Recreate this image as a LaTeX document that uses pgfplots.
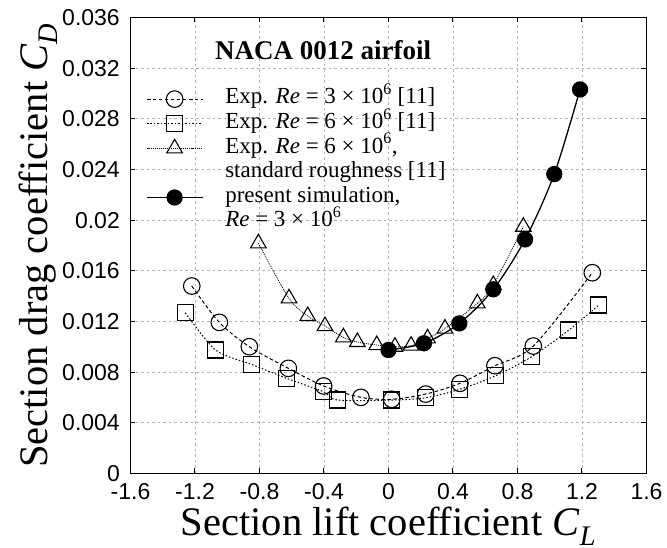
\documentclass[border=0pt]{standalone}
\usepackage{pgfplots}
\pgfplotsset{compat=1.18}
\usepackage{fontspec}
\setmainfont{Liberation Serif}
\newfontfamily\arialfont{Liberation Sans}

\begin{document}
\begin{tikzpicture}
\begin{axis}[
    name=ax,
    scale only axis, width=516pt, height=456pt,
    xmin=-1.6, xmax=1.6, ymin=0, ymax=0.036,
    xtick={-1.6,-1.2,-0.8,-0.4,0,0.4,0.8,1.2,1.6},
    xticklabels={-1.6,-1.2,-0.8,-0.4,0,0.4,0.8,1.2,1.6},
    ytick={0,0.004,0.008,0.012,0.016,0.02,0.024,0.028,0.032,0.036},
    yticklabels={0,0.004,0.008,0.012,0.016,0.02,0.024,0.028,0.032,0.036},
    scaled y ticks=false, scaled x ticks=false,
    tick align=inside, major tick length=5pt,
    tick style={black, line width=1pt},
    grid=major,
    grid style={gray!60, line width=0.7pt, dash pattern=on 2.5pt off 3pt},
    axis line style={line width=1.8pt},
    ticklabel style={font=\arialfont\fontsize{23}{23}\selectfont, inner sep=0pt},
    yticklabel style={xshift=-10.5pt},
    xticklabel style={yshift=-9.8pt},
    every axis x label/.style={at={(axis description cs:0.5,-0.135)}, anchor=base},
    every axis y label/.style={at={(axis description cs:-0.1618,0.5)}, rotate=90, anchor=base},
    label style={font=\fontsize{40.5}{40.5}\selectfont, inner sep=0pt},
    xlabel={Section lift coefficient \textit{C}\textsubscript{\textit{L}}},
    ylabel={Section drag coefficient \textit{C}\textsubscript{\textit{D}}},
    legend cell align=left,
    legend image code/.code={\draw[mark repeat=2,mark phase=2,#1] plot coordinates {(0pt,0pt) (28pt,0pt) (56pt,0pt)};},
    legend style={at={(axis description cs:0.03,0.848)}, anchor=north west,
        draw=none, fill=none, inner sep=0pt, outer sep=0pt, row sep=0pt,
        font=\fontsize{23}{24.6}\selectfont,
        nodes={inner sep=0pt, text height=17pt, text depth=7.6pt},
        /tikz/every odd column/.append style={column sep=22pt}},
]

% Exp. Re = 3e6
\addplot[black, line width=1pt, dash pattern=on 3.5pt off 2.5pt, smooth,
    mark=o, mark size=8.3pt, mark options={solid, line width=1.1pt}] coordinates {
    (-1.220,0.01480) (-1.049,0.01193) (-0.863,0.01001) (-0.621,0.00830)
    (-0.402,0.00691) (-0.171,0.00601) (0.020,0.00586) (0.231,0.00627)
    (0.443,0.00712) (0.660,0.00851) (0.898,0.01006) (1.264,0.01585)
};
\addlegendentry{Exp. \textit{Re} = 3 × 10\textsuperscript{6} [11]}

% Exp. Re = 6e6
\addplot[black, line width=1pt, dash pattern=on 1.5pt off 2pt, smooth,
    mark=square, mark size=8pt, mark options={solid, line width=1.1pt}] coordinates {
    (-1.260,0.01269) (-1.072,0.00975) (-0.851,0.00862) (-0.631,0.00751)
    (-0.404,0.00646) (-0.315,0.00580) (0.020,0.00580) (0.231,0.00598)
    (0.443,0.00665) (0.665,0.00772) (0.888,0.00922) (1.119,0.01133)
    (1.305,0.01330)
};
\addlegendentry{Exp. \textit{Re} = 6 × 10\textsuperscript{6} [11]}

% Exp. Re = 6e6, standard roughness
\addplot[black, line width=0.8pt, dash pattern=on 1pt off 1pt, smooth,
    mark=triangle, mark size=9pt, mark options={solid, line width=1.1pt}] coordinates {
    (-0.807,0.01817) (-0.617,0.01383) (-0.501,0.01243) (-0.394,0.01164)
    (-0.280,0.01075) (-0.193,0.01038) (-0.073,0.01014) (0.040,0.01001)
    (0.140,0.01009) (0.242,0.01067) (0.350,0.01144) (0.551,0.01343)
    (0.650,0.01488) (0.836,0.01948)
};
\addlegendentry{Exp. \textit{Re} = 6 × 10\textsuperscript{6},}
\addlegendimage{empty legend}
\addlegendentry{standard roughness [11]}

% present simulation
\addplot[black, line width=1.3pt, smooth,
    mark=*, mark size=7.5pt, mark options={solid, fill=black}] coordinates {
    (0.000,0.00975) (0.220,0.01028) (0.439,0.01185) (0.650,0.01454)
    (0.847,0.01848) (1.028,0.02364) (1.188,0.03032)
};
\addlegendentry{present simulation,}
\addlegendimage{empty legend}
\addlegendentry{\textit{Re} = 3 × 10\textsuperscript{6}}

\node[anchor=base west, font=\bfseries\fontsize{27}{27}\selectfont, inner sep=0pt]
    at (axis cs:-1.076,0.0327) {NACA 0012 airfoil};
\end{axis}
\pgfresetboundingbox
\path (ax.south west) ++(-130.5pt,-74.5pt) rectangle ++(667pt,548pt);
\end{tikzpicture}
\end{document}
